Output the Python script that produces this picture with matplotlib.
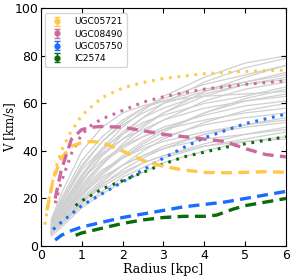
import numpy as np
import matplotlib
matplotlib.use("Agg")
import matplotlib.pyplot as plt

# Colours of the four highlighted galaxies
names = ['UGC05721', 'UGC08490', 'UGC05750', 'IC2574']
colors = ['#ffc84a', '#cc6a9f', '#1a6cff', '#0b6b0b']

# Dotted curves (total model)
r_ugc05721_dot = [0.1, 0.2, 0.35, 0.5, 0.7, 1.0, 1.5, 2.0, 2.5, 3.0, 4.0, 5.0, 6.0]
v_ugc05721_dot = [9, 20, 32, 40, 47, 55, 62.5, 66.5, 68.8, 70.5, 72.5, 73.5, 74]
r_ugc08490_dot = [0.35, 0.5, 0.75, 1.0, 1.25, 1.5, 2.0, 2.5, 3.0, 3.5, 4.0, 5.0, 6.0]
v_ugc08490_dot = [18, 27, 39, 47, 51, 53.5, 57, 60.5, 62.8, 64.5, 66, 68, 69.5]
r_ugc05750_dot = [0.3, 0.5, 1.0, 1.5, 2.0, 2.5, 3.0, 3.5, 4.0, 4.5, 5.0, 5.5, 6.0]
v_ugc05750_dot = [7, 10, 17, 22, 27, 32, 37, 41.5, 45.5, 48.5, 51.5, 53.5, 55.5]
r_ic2574_dot = [0.85, 1.0, 1.5, 2.0, 2.5, 3.0, 3.5, 4.0, 4.5, 5.0, 5.5, 6.0]
v_ic2574_dot = [17, 19, 24, 27.5, 31, 34.5, 37.5, 39.5, 41.5, 43, 44.5, 46]

# Dashed curves (observed)
r_ugc05721_dash = [0.15, 0.3, 0.5, 0.75, 1.0, 1.25, 1.5, 2.0, 2.5, 3.0, 3.5, 4.0, 4.5, 5.0, 5.5, 6.0]
v_ugc05721_dash = [15, 28, 37, 42, 43.5, 44, 43.5, 40, 36, 33.5, 32, 31, 30.8, 31, 31.3, 31]
r_ugc08490_dash = [0.35, 0.5, 0.75, 1.0, 1.25, 1.5, 2.0, 2.5, 3.0, 3.5, 4.0, 4.5, 5.0, 5.5, 6.0]
v_ugc08490_dash = [20, 32, 45, 49, 50, 50.3, 50, 48.5, 47, 46, 45, 44, 41, 38.5, 37.5]
r_ugc05750_dash = [0.35, 0.5, 0.75, 1.0, 1.5, 2.0, 2.5, 3.0, 3.5, 4.0, 4.5, 5.0, 5.5, 6.0]
v_ugc05750_dash = [2.5, 4.5, 6.5, 8, 10, 12, 13.5, 15, 16.5, 17.5, 18.5, 20, 21.5, 23]
r_ic2574_dash = [0.85, 1.0, 1.5, 2.0, 2.5, 3.0, 3.5, 4.0, 4.3, 4.7, 5.0, 5.5, 6.0]
v_ic2574_dash = [4.5, 5.5, 7.5, 9.5, 11, 12, 12.5, 12.5, 13, 15.5, 17, 18.5, 20]

# Background sample of galaxies (grey)
r_grey = [0.25, 0.5, 1.0, 1.5, 2.0, 2.5, 3.0, 4.0, 5.0, 6.0]
v_grey = [
    [8, 16, 30, 41, 50, 57, 63, 71, 77, 80],
    [7, 14, 27, 38, 47, 54, 60, 69, 75, 79],
    [9, 18, 33, 44, 52, 58, 62, 68, 72, 76],
    [6, 12, 24, 34, 43, 50, 56, 65, 71, 76],
    [10, 20, 36, 46, 53, 58, 61, 66, 69, 72],
    [8, 15, 28, 38, 45, 51, 56, 63, 68, 71],
    [7, 13, 25, 35, 42, 48, 53, 61, 66, 69],
    [11, 22, 40, 50, 56, 59, 61, 63, 64, 65],
    [6, 11, 21, 30, 37, 43, 48, 56, 62, 66],
    [9, 17, 30, 39, 45, 49, 53, 58, 61, 63],
    [7, 14, 26, 35, 41, 46, 50, 55, 59, 61],
    [5, 10, 19, 27, 34, 40, 45, 52, 57, 60],
    [8, 16, 28, 36, 42, 46, 49, 53, 56, 58],
    [6, 12, 23, 31, 37, 42, 46, 51, 54, 56],
    [5, 9, 18, 26, 32, 37, 41, 47, 51, 54],
    [7, 13, 24, 32, 37, 41, 44, 48, 51, 53],
    [6, 11, 20, 28, 34, 38, 42, 47, 50, 52],
    [5, 10, 18, 25, 30, 35, 38, 43, 47, 50],
    [6, 12, 22, 29, 34, 38, 41, 45, 47, 49],
    [5, 9, 17, 23, 29, 33, 37, 42, 45, 48],
    [4, 8, 16, 22, 27, 31, 35, 40, 44, 46],
    [5, 10, 19, 26, 31, 35, 38, 42, 44, 45],
    [9, 18, 32, 41, 47, 52, 55, 60, 63, 67],
    [10, 19, 34, 44, 51, 56, 60, 65, 69, 73],
    [7, 15, 29, 40, 48, 54, 58, 64, 68, 70],
    [6, 12, 22, 31, 38, 44, 49, 56, 61, 64],
]

dotted = [(r_ugc05721_dot, v_ugc05721_dot), (r_ugc08490_dot, v_ugc08490_dot),
          (r_ugc05750_dot, v_ugc05750_dot), (r_ic2574_dot, v_ic2574_dot)]
dashed = [(r_ugc05721_dash, v_ugc05721_dash), (r_ugc08490_dash, v_ugc08490_dash),
          (r_ugc05750_dash, v_ugc05750_dash), (r_ic2574_dash, v_ic2574_dash)]

fig = plt.figure(figsize=(2.94, 2.78), dpi=100)
ax = fig.add_axes([0.139, 0.115, 0.834, 0.855])

for v in v_grey:
    ax.plot(r_grey, v, color='#cfcfcf', lw=0.9, zorder=1)

for (r, v), c in zip(dotted, colors):
    ax.plot(r, v, color=c, lw=2.2, ls=(0, (0.9, 1.9)), zorder=3)
for (r, v), c in zip(dashed, colors):
    ax.plot(r, v, color=c, lw=2.4, ls=(0, (3.3, 1.9)), zorder=3)

# Legend entries as errorbar points
for name, c in zip(names, colors):
    ax.errorbar([np.nan], [np.nan], yerr=[np.nan], fmt='o', color=c,
                ms=3.5, capsize=2, elinewidth=1, label=name)

ax.legend(loc='upper left', fontsize=6.5, frameon=True, handlelength=1.5,
          borderpad=0.5, labelspacing=0.35, handletextpad=1.2)

ax.set_xlim(0, 6)
ax.set_ylim(0, 100)
ax.set_xticks(range(0, 7))
ax.set_yticks(range(0, 101, 20))
ax.tick_params(direction='in', top=True, right=True, labelsize=9, length=3.5, pad=2)
ax.set_xlabel('Radius [kpc]', family='DejaVu Serif', fontsize=9, labelpad=1)
ax.set_ylabel('V [km/s]', family='DejaVu Serif', fontsize=8.5, labelpad=0)
ax.yaxis.set_label_coords(-0.1, 0.5)

fig.savefig('out.png', dpi=100)
